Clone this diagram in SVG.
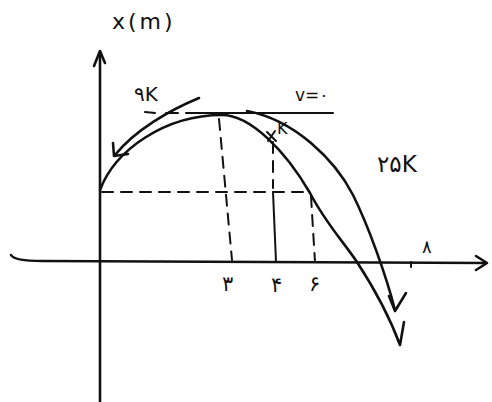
<svg xmlns="http://www.w3.org/2000/svg" width="492" height="402" viewBox="0 0 492 402">
<style>
.ln{fill:none;stroke:#111;stroke-width:2.6;stroke-linecap:round;stroke-linejoin:round}
.th{fill:none;stroke:#111;stroke-width:2;stroke-linecap:round}
.ds{fill:none;stroke:#111;stroke-width:2;stroke-dasharray:11 8;stroke-linecap:round}
.tx{font-family:"DejaVu Sans",sans-serif;fill:#111}
</style>
<rect width="492" height="402" fill="#fff"/>
<g id="axes">
<path class="ln" d="M100,402 L100,52"/>
<path class="ln" d="M94,66 L100,51 L105,63"/>
<path class="ln" d="M11,255 C13,259 22,261 42,261 L486,263"/>
<path class="ln" d="M476,256 L487,263 L476,270"/>
<path class="th" d="M411,262 L411,267"/>
</g>
<g id="guides">
<path class="ds" d="M102,192 L310,192"/>
<path class="ds" d="M219,119 L232,260"/>
<path class="ds" d="M273,142 L273,188"/>
<path class="th" d="M273,192 L276,262"/>
<path class="ds" d="M311,196 L315,262"/>
<path class="th" d="M145,112 L155,113 M166,113 L178,113 M186,113 L333,113"/>
</g>
<g id="curves">
<path id="parabola" class="ln" d="M100,190 C115,150 165,115 222,115 C250,115 285,150 310,193 C325,222 342,240 357,262 C372,285 390,318 400,345 L404,322"/>
<path id="arrow-right" class="ln" d="M247,111 C295,120 335,160 353,195 C368,225 386,275 395,310"/>
<path class="ln" d="M389,296 L395,311 L406,293"/>
<path id="arrow-left" class="ln" d="M199,98 C170,110 135,130 115,155"/>
<path class="ln" d="M113,143 L114,156 L128,154"/>
<path class="th" d="M267,132 L276,141 M268,141 L275,131"/>
</g>
<g id="labels">
<text class="tx" x="112" y="29" font-size="22" letter-spacing="3">x(m)</text>
<text class="tx" x="134" y="101" font-size="20">۹K</text>
<text class="tx" x="277" y="134" font-size="16">K</text>
<text class="tx" x="295" y="101" font-size="17">v=۰</text>
<text class="tx" x="377" y="172" font-size="23">۲۵K</text>
<text class="tx" x="222" y="291" font-size="21">۳</text>
<text class="tx" x="271" y="292" font-size="21">۴</text>
<text class="tx" x="309" y="291" font-size="21">۶</text>
<text class="tx" x="422" y="253" font-size="18">۸</text>
</g>
</svg>
